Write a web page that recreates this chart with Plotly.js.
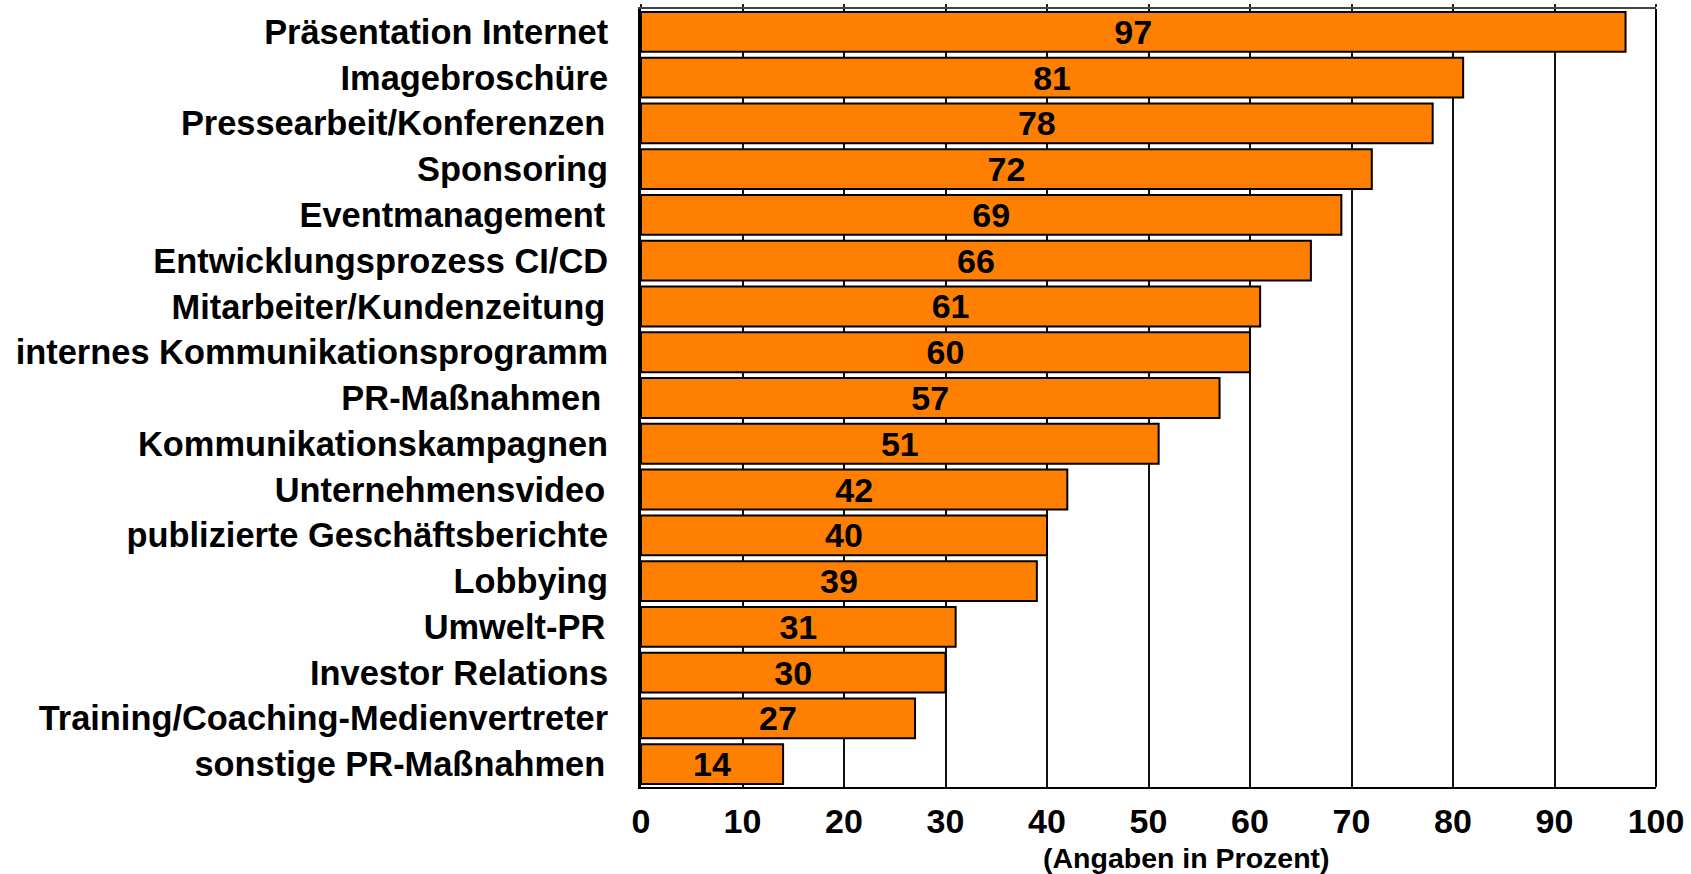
<!DOCTYPE html>
<html>
<head>
<meta charset="utf-8">
<script src="https://cdn.plot.ly/plotly-3.0.1.min.js"></script>
<style>html,body{margin:0;padding:0;background:#fff;}#chart{width:1691px;height:874px;}</style>
</head>
<body>
<div id="chart"></div>
<script>
var categories = [
  "Präsentation Internet",
  "Imagebroschüre",
  "Pressearbeit/Konferenzen\u200a",
  "Sponsoring",
  "Eventmanagement\u200a",
  "Entwicklungsprozess CI/CD",
  "Mitarbeiter/Kundenzeitung\u200a",
  "internes Kommunikationsprogramm",
  "PR-Maßnahmen\u2009",
  "Kommunikationskampagnen",
  "Unternehmensvideo\u200a",
  "publizierte Geschäftsberichte",
  "Lobbying",
  "Umwelt-PR\u200a",
  "Investor Relations",
  "Training/Coaching-Medienvertreter",
  "sonstige PR-Maßnahmen\u200a"
];
var values = [97, 81, 78, 72, 69, 66, 61, 60, 57, 51, 42, 40, 39, 31, 30, 27, 14];
var xTickValues = [0, 10, 20, 30, 40, 50, 60, 70, 80, 90, 100];
var axisTitle = "(Angaben in Prozent)";

var FONT = "Liberation Sans, Arial, Helvetica, sans-serif";

var bars = {
  type: "bar",
  orientation: "h",
  x: values,
  y: categories,
  width: 0.87,
  marker: { color: "#FF8000", line: { color: "#000000", width: 2 } },
  text: values.map(String),
  textposition: "inside",
  insidetextanchor: "middle",
  textangle: 0,
  constraintext: "none",
  textfont: { family: FONT, size: 34, color: "#000000", weight: "bold" },
  hoverinfo: "x+y",
  xaxis: "x",
  yaxis: "y"
};

var topTicks = {
  type: "scatter",
  x: [0, 100],
  y: [categories[0], categories[0]],
  mode: "markers",
  marker: { opacity: 0, size: 1 },
  hoverinfo: "skip",
  showlegend: false,
  xaxis: "x2",
  yaxis: "y"
};

var layout = {
  width: 1691,
  height: 874,
  margin: { l: 641, r: 35, t: 9, b: 87, pad: 0 },
  paper_bgcolor: "#ffffff",
  plot_bgcolor: "#ffffff",
  showlegend: false,
  bargap: 0.13,
  xaxis: {
    range: [0, 100],
    tickvals: xTickValues,
    ticktext: xTickValues.map(String),
    showgrid: true,
    gridcolor: "#111111",
    gridwidth: 2,
    showline: true,
    linecolor: "#000000",
    linewidth: 2,
    mirror: false,
    zeroline: false,
    ticks: "",
    ticklabelstandoff: 3,
    tickfont: { family: FONT, size: 34, color: "#000000", weight: "bold" },
    fixedrange: true
  },
  xaxis2: {
    range: [0, 100],
    overlaying: "x",
    side: "top",
    tickvals: xTickValues,
    showticklabels: false,
    showgrid: false,
    showline: true,
    linecolor: "#444444",
    linewidth: 2,
    ticks: "outside",
    ticklen: 3,
    tickwidth: 2,
    tickcolor: "#222222",
    zeroline: false,
    fixedrange: true
  },
  yaxis: {
    type: "category",
    range: [16.5, -0.5],
    autorange: false,
    showgrid: false,
    showline: true,
    linecolor: "#000000",
    linewidth: 3,
    ticks: "",
    ticklabelstandoff: 23,
    tickfont: { family: FONT, size: 34.4, color: "#000000", weight: "bold" },
    fixedrange: true
  },
  shapes: [
    { type: "line", xref: "paper", yref: "paper", x0: 1, x1: 1, y0: 0, y1: 1,
      line: { color: "#000000", width: 2 } }
  ],
  annotations: [
    { text: axisTitle, xref: "paper", yref: "paper", x: 0.5377, y: -0.091,
      xanchor: "center", yanchor: "middle", showarrow: false,
      font: { family: FONT, size: 28.5, color: "#000000", weight: "bold" } }
  ]
};

Plotly.newPlot("chart", [bars, topTicks], layout, { displayModeBar: false, staticPlot: true });
</script>
</body>
</html>
